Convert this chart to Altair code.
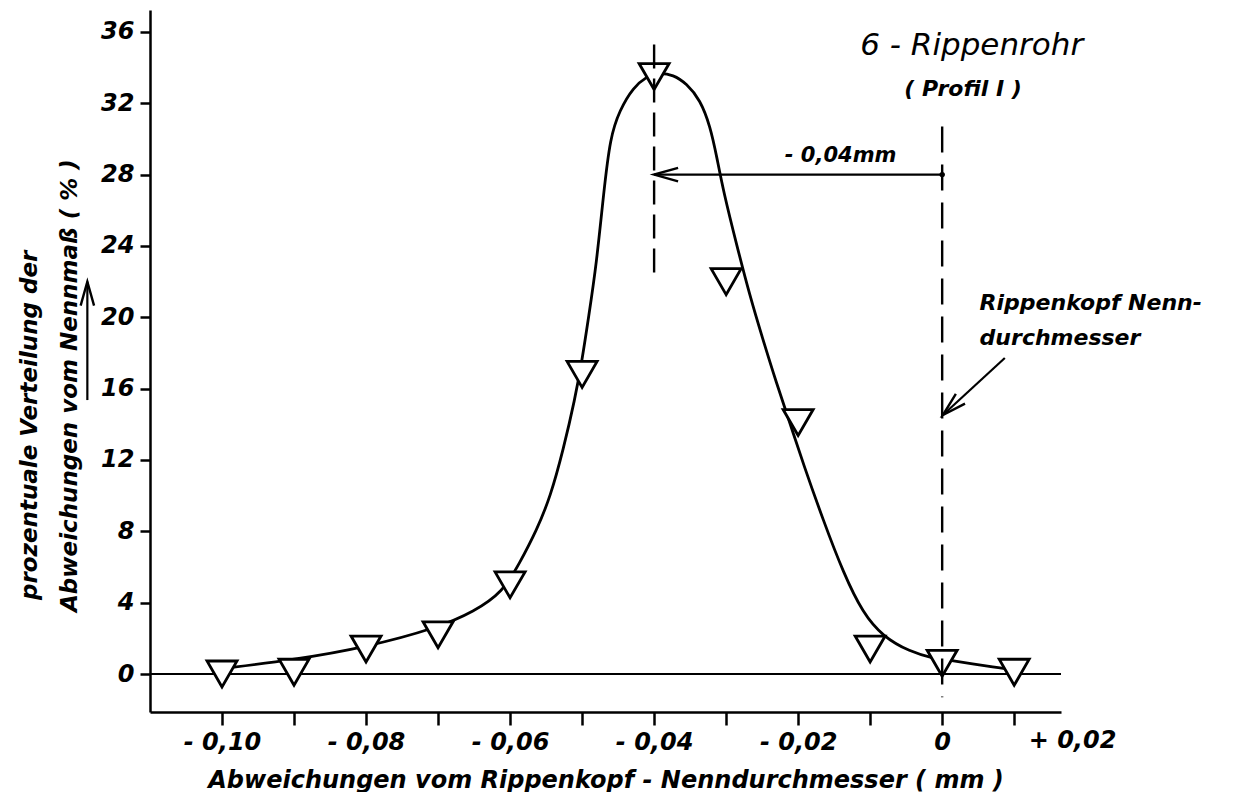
import altair as alt
import pandas as pd

# ---- data ----
dev_mm = [-0.10, -0.09, -0.08, -0.07, -0.06, -0.05, -0.04, -0.03, -0.02, -0.01, 0.00, 0.01]
share_pct = [0.0, 0.1, 1.4, 2.2, 5.0, 16.8, 33.5, 22.0, 14.1, 1.4, 0.6, 0.1]

curve_x = [-0.100, -0.090, -0.080, -0.070, -0.065, -0.0610, -0.0587, -0.0563, -0.0544,
           -0.0526, -0.0510, -0.0500, -0.0491, -0.0480, -0.0470, -0.0461, -0.0448,
           -0.0429, -0.0410, -0.0395, -0.0373, -0.0355, -0.0336, -0.0322, -0.0313,
           -0.0304, -0.0285, -0.0267, -0.0250, -0.0230, -0.0210, -0.0193, -0.0165,
           -0.0137, -0.0110, -0.0082, -0.0045, -0.0012, 0.000, 0.008, 0.010]
curve_y = [0.3, 0.8, 1.5, 2.6, 3.5, 4.6, 6.2, 8.07, 9.94,
           12.6, 15.4, 17.6, 20.0, 23.0, 27.0, 30.1, 31.6,
           32.9, 33.5, 33.72, 33.6, 33.1, 32.2, 30.7, 29.0,
           27.1, 24.0, 21.2, 18.9, 16.3, 13.9, 11.8, 8.6,
           5.65, 3.4, 2.09, 1.25, 0.88, 0.85, 0.32, 0.25]

x_ticks = [-0.10, -0.09, -0.08, -0.07, -0.06, -0.05, -0.04, -0.03, -0.02, -0.01, 0.0, 0.01]
y_ticks = [0, 4, 8, 12, 16, 20, 24, 28, 32, 36]

X_DOMAIN = [-0.11, 0.0165]
Y_DOMAIN = [-2.13, 37.23]

FONT = "DejaVu Sans"
WEIGHT = "bold"
INK = "black"

xs = alt.Scale(domain=X_DOMAIN, nice=False, zero=False)
ys = alt.Scale(domain=Y_DOMAIN, nice=False, zero=False)

x_label_expr = ("abs(round(datum.value*100)) % 2 == 1 ? '' : "
                "(abs(datum.value) < 1e-9 ? '0' : '- ' + replace(format(abs(datum.value), '.2f'), '.', ','))")

x_axis = alt.Axis(values=x_ticks, labelExpr=x_label_expr, tickSize=13, tickWidth=2.5,
                  domainWidth=2.5, domainColor=INK, tickColor=INK, labelColor=INK,
                  labelFontSize=24, labelFont=FONT, labelFontStyle="italic",
                  labelFontWeight=WEIGHT,
                  labelPadding=5, labelOverlap=False, labelFlush=False, grid=False,
                  title="Abweichungen vom Rippenkopf - Nenndurchmesser  ( mm )",
                  titleFont=FONT, titleFontSize=24, titleFontStyle="italic",
                  titleFontWeight=WEIGHT, titleColor=INK, titlePadding=14)
y_axis = alt.Axis(values=y_ticks, tickSize=10, tickWidth=2.5, domainWidth=2.5,
                  domainColor=INK, tickColor=INK, labelColor=INK, labelFontSize=24,
                  labelFont=FONT, labelFontStyle="italic", labelFontWeight=WEIGHT,
                  labelPadding=6, labelOverlap=False, labelFlush=False, grid=False, title=None)

def X(field="x"):
    return alt.X(f"{field}:Q", scale=xs, axis=x_axis)

def Y(field="y"):
    return alt.Y(f"{field}:Q", scale=ys, axis=y_axis)

pts = pd.DataFrame({"x": dev_mm, "y": share_pct})
crv = pd.DataFrame({"x": curve_x, "y": curve_y})

# zero line
zero = alt.Chart(pd.DataFrame({"x": [X_DOMAIN[0]], "x2": [X_DOMAIN[1]], "y": [0]})).mark_rule(
    color=INK, strokeWidth=2.2).encode(x=X(), x2="x2:Q", y=Y())

curve = alt.Chart(crv).mark_line(color=INK, strokeWidth=2.8, interpolate="basis").encode(
    x=X(), y=Y())

tri = alt.Chart(pts).mark_point(shape="triangle-down", size=900, filled=True, fill="white",
                                stroke=INK, strokeWidth=2.8, opacity=1).encode(x=X(), y=Y())

# dashed reference lines
dash_peak = alt.Chart(pd.DataFrame({"x": [-0.04], "y": [35.3], "y2": [22.5]})).mark_rule(
    color=INK, strokeWidth=2.4, strokeDash=[24, 10]).encode(x=X(), y=Y(), y2="y2:Q")
dash_zero = alt.Chart(pd.DataFrame({"x": [0.0], "y": [30.7], "y2": [-1.3]})).mark_rule(
    color=INK, strokeWidth=2.4, strokeDash=[26, 12]).encode(x=X(), y=Y(), y2="y2:Q")

# arrow shafts
shafts = pd.DataFrame({
    "x": [-0.04, -0.1187, 0.0087],
    "x2": [0.0, -0.1187, 0.0001],
    "y": [28.0, 15.36, 17.72],
    "y2": [28.0, 22.0, 14.52],
})
shaft = alt.Chart(shafts).mark_rule(color=INK, strokeWidth=2.2, clip=False).encode(
    x=X(), x2="x2:Q", y=Y(), y2="y2:Q")

# arrow heads (open V, tip at the point)
heads = pd.DataFrame({"x": [-0.04, -0.1187, 0.0001], "y": [28.0, 22.0, 14.52],
                      "ang": [270, 0, 227]})
head = alt.Chart(heads).mark_point(shape="M-0.28,1L0,0L0.28,1", size=2300, filled=False,
                                   stroke=INK, strokeWidth=2.4, clip=False, opacity=1).encode(
    x=X(), y=Y(), angle=alt.Angle("ang:Q", scale=None))

dot = alt.Chart(pd.DataFrame({"x": [0.0], "y": [28.0]})).mark_point(
    filled=True, size=30, color=INK, opacity=1).encode(x=X(), y=Y())

def label(x, y, text, size, align="center", angle=0, baseline="alphabetic", weight=WEIGHT):
    return alt.Chart(pd.DataFrame({"x": [x], "y": [y], "t": [text]})).mark_text(
        font=FONT, fontSize=size, fontStyle="italic", fontWeight=weight, color=INK,
        align=align, baseline=baseline, angle=angle, clip=False).encode(
        x=X(), y=Y(), text="t:N")

texts = [
    label(0.0041, 34.7, "6 - Rippenrohr", 31, weight="normal"),
    label(0.0029, 32.4, "( Profil I )", 22),
    label(-0.0141, 28.7, "- 0,04mm", 21),
    label(0.0052, 20.4, "Rippenkopf Nenn-", 22, align="left"),
    label(0.0052, 18.45, "durchmesser", 22, align="left"),
    label(0.0181, -3.76, "+ 0,02", 24, baseline="middle"),
    label(-0.1266, 4.15, "prozentuale  Verteilung  der", 23, align="left", angle=270,
          baseline="middle"),
    label(-0.1211, 3.48, "Abweichungen  vom  Nennmaß  ( % )", 23, align="left", angle=270,
          baseline="middle"),
]

chart = alt.layer(zero, curve, tri, dash_peak, dash_zero, shaft, head, dot, *texts).properties(
    width=911, height=702,
    autosize=alt.AutoSizeParams(type="none"),
    padding={"left": 142, "top": 2, "right": 170, "bottom": 80},
    background="white",
).configure_view(stroke=None)

chart.save("out.html", embed_options={"renderer": "svg", "actions": False})
